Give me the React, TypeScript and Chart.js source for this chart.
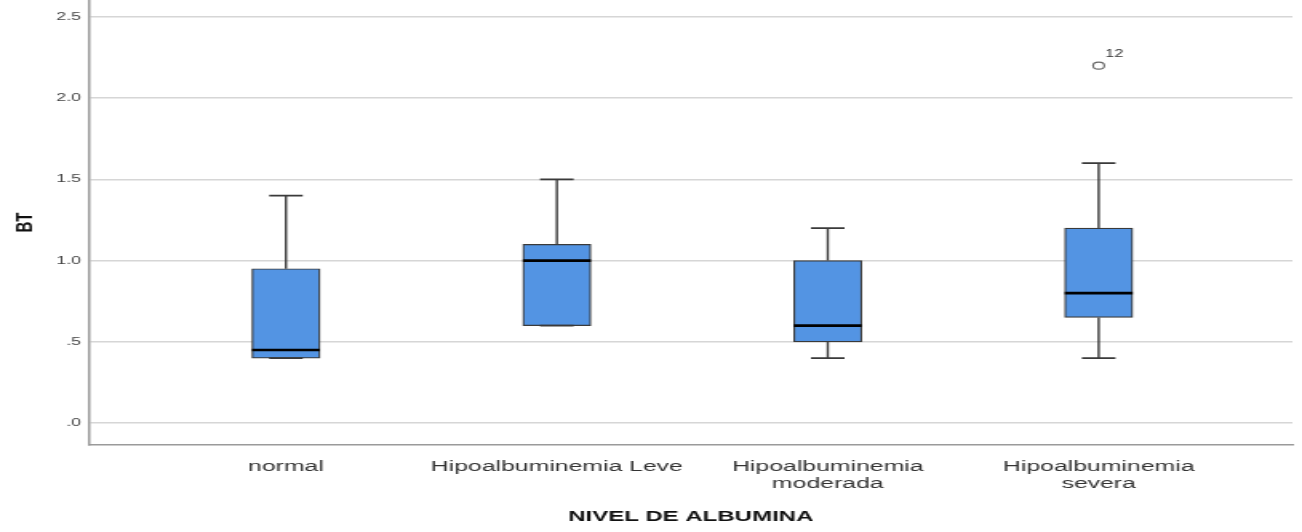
import React, { useEffect, useRef } from "react";
import { Chart, registerables } from "chart.js";

Chart.register(...registerables);

// ---- data ----
const categories = ["normal", "Hipoalbuminemia Leve", "Hipoalbuminemia moderada", "Hipoalbuminemia severa"];
const categoryLabels: (string | string[])[] = [
  "normal",
  "Hipoalbuminemia Leve",
  ["Hipoalbuminemia", "moderada"],
  ["Hipoalbuminemia", "severa"],
];
const whiskerLow = [0.4, 0.6, 0.4, 0.4];
const q1 = [0.4, 0.6, 0.5, 0.65];
const median = [0.45, 1.0, 0.6, 0.8];
const q3 = [0.95, 1.1, 1.0, 1.2];
const whiskerHigh = [1.4, 1.5, 1.2, 1.6];
const outlierCategory = [3];
const outlierValue = [2.2];
const outlierLabel = ["12"];
const yTicks = [0, 0.5, 1.0, 1.5, 2.0, 2.5];
const yTickLabels = [".0", ".5", "1.0", "1.5", "2.0", "2.5"];

// ---- layout / style ----
const PAGE_W = 1302;
const PAGE_H = 532;
const STRETCH = 1.6;
const CANVAS_W = Math.round(PAGE_W / STRETCH);
const FONT = "'Liberation Sans', Arial, sans-serif";
const BOX_W = 42.5;
const CAP_W = 21;

const boxParts = {
  id: "boxParts",
  afterDatasetsDraw(chart: any) {
    const { ctx } = chart;
    const x = chart.scales.x;
    const y = chart.scales.y;
    ctx.save();
    ctx.strokeStyle = "#3a3a3a";
    categories.forEach((_, i) => {
      const px = x.getPixelForValue(i);
      const yq1 = y.getPixelForValue(q1[i]);
      const yq3 = y.getPixelForValue(q3[i]);
      const ylo = y.getPixelForValue(whiskerLow[i]);
      const yhi = y.getPixelForValue(whiskerHigh[i]);
      ctx.lineWidth = 1.4;
      ctx.beginPath();
      ctx.moveTo(px, yq3);
      ctx.lineTo(px, yhi);
      ctx.moveTo(px, yq1);
      ctx.lineTo(px, ylo);
      ctx.stroke();
      ctx.lineWidth = 1.8;
      ctx.beginPath();
      ctx.moveTo(px - CAP_W / 2, yhi);
      ctx.lineTo(px + CAP_W / 2, yhi);
      ctx.moveTo(px - CAP_W / 2, ylo);
      ctx.lineTo(px + CAP_W / 2, ylo);
      ctx.stroke();
    });
    // medians
    ctx.strokeStyle = "#000";
    ctx.lineWidth = 2.6;
    categories.forEach((_, i) => {
      const px = x.getPixelForValue(i);
      const ym = y.getPixelForValue(median[i]);
      ctx.beginPath();
      ctx.moveTo(px - BOX_W / 2, ym);
      ctx.lineTo(px + BOX_W / 2, ym);
      ctx.stroke();
    });
    // outlier labels
    ctx.fillStyle = "#333";
    ctx.font = `10px ${FONT}`;
    ctx.textAlign = "left";
    ctx.textBaseline = "bottom";
    outlierValue.forEach((v, k) => {
      const px = x.getPixelForValue(outlierCategory[k]);
      const py = y.getPixelForValue(v);
      ctx.fillText(outlierLabel[k], px + 4.2, py - 6);
    });
    ctx.restore();
  },
};

export default function App() {
  const ref = useRef<HTMLCanvasElement | null>(null);

  useEffect(() => {
    if (!ref.current) return;
    const chart = new Chart(ref.current, {
      type: "bar",
      data: {
        datasets: [
          {
            type: "bar",
            data: categories.map((_, i) => ({ x: i, y: [q1[i], q3[i]] })) as any,
            backgroundColor: "#5394e3",
            borderColor: "#3a3a3a",
            borderWidth: 1.2,
            borderSkipped: false,
            barThickness: BOX_W,
          } as any,
          {
            type: "scatter",
            data: outlierValue.map((v, k) => ({ x: outlierCategory[k], y: v })),
            pointRadius: 3.5,
            pointStyle: "circle",
            backgroundColor: "#fff",
            borderColor: "#666",
            borderWidth: 1.1,
          } as any,
        ],
      },
      options: {
        responsive: false,
        animation: false,
        devicePixelRatio: 1,
        layout: { autoPadding: false, padding: { left: 0, right: 6, top: 0, bottom: 0 } },
        plugins: { legend: { display: false }, tooltip: { enabled: false } },
        scales: {
          x: {
            type: "linear",
            offset: false,
            min: -0.727,
            max: 3.715,
            afterBuildTicks: (s: any) => {
              s.ticks = categories.map((_, i) => ({ value: i }));
            },
            ticks: {
              callback: (_v: any, i: number) => categoryLabels[i],
              font: { size: 15.5, family: FONT, lineHeight: 1.1 },
              color: "#333",
              padding: 5,
              maxRotation: 0,
              autoSkip: false,
            },
            grid: { display: false, offset: false },
            border: { display: true, color: "#9a9a9a", width: 1.5 },
            title: {
              display: true,
              text: "NIVEL DE ALBUMINA",
              font: { size: 15, weight: "bold", family: FONT },
              color: "#111",
              padding: { top: 0, bottom: 6 },
            },
            afterFit: (s: any) => {
              s.height = 87;
              s.paddingLeft = 0;
              s.paddingRight = 0;
            },
          } as any,
          y: {
            min: -0.135,
            max: 2.604,
            afterBuildTicks: (s: any) => {
              s.ticks = yTicks.map((v) => ({ value: v }));
            },
            ticks: {
              callback: (_v: any, i: number) => yTickLabels[i],
              font: { size: 11, family: FONT },
              color: "#444",
              padding: 5,
            },
            grid: { color: "#d6d6d6", lineWidth: 1.5, drawTicks: false },
            border: { display: true, color: "#9a9a9a", width: 1.5 },
            title: {
              display: true,
              text: "BT",
              font: { size: 15, weight: "bold", family: FONT },
              color: "#111",
              padding: { top: 7, bottom: 0 },
            },
            afterFit: (s: any) => {
              s.width = 55.6;
              s.paddingTop = 0;
              s.paddingBottom = 0;
            },
          } as any,
        },
      },
      plugins: [boxParts],
    });
    return () => chart.destroy();
  }, []);

  return (
    <div
      style={{
        position: "fixed",
        left: 0,
        top: 0,
        width: PAGE_W,
        height: PAGE_H,
        background: "#fff",
        overflow: "hidden",
      }}
    >
      <canvas
        ref={ref}
        width={CANVAS_W}
        height={PAGE_H}
        style={{ width: `${PAGE_W}px`, height: `${PAGE_H}px`, display: "block" }}
      />
    </div>
  );
}
